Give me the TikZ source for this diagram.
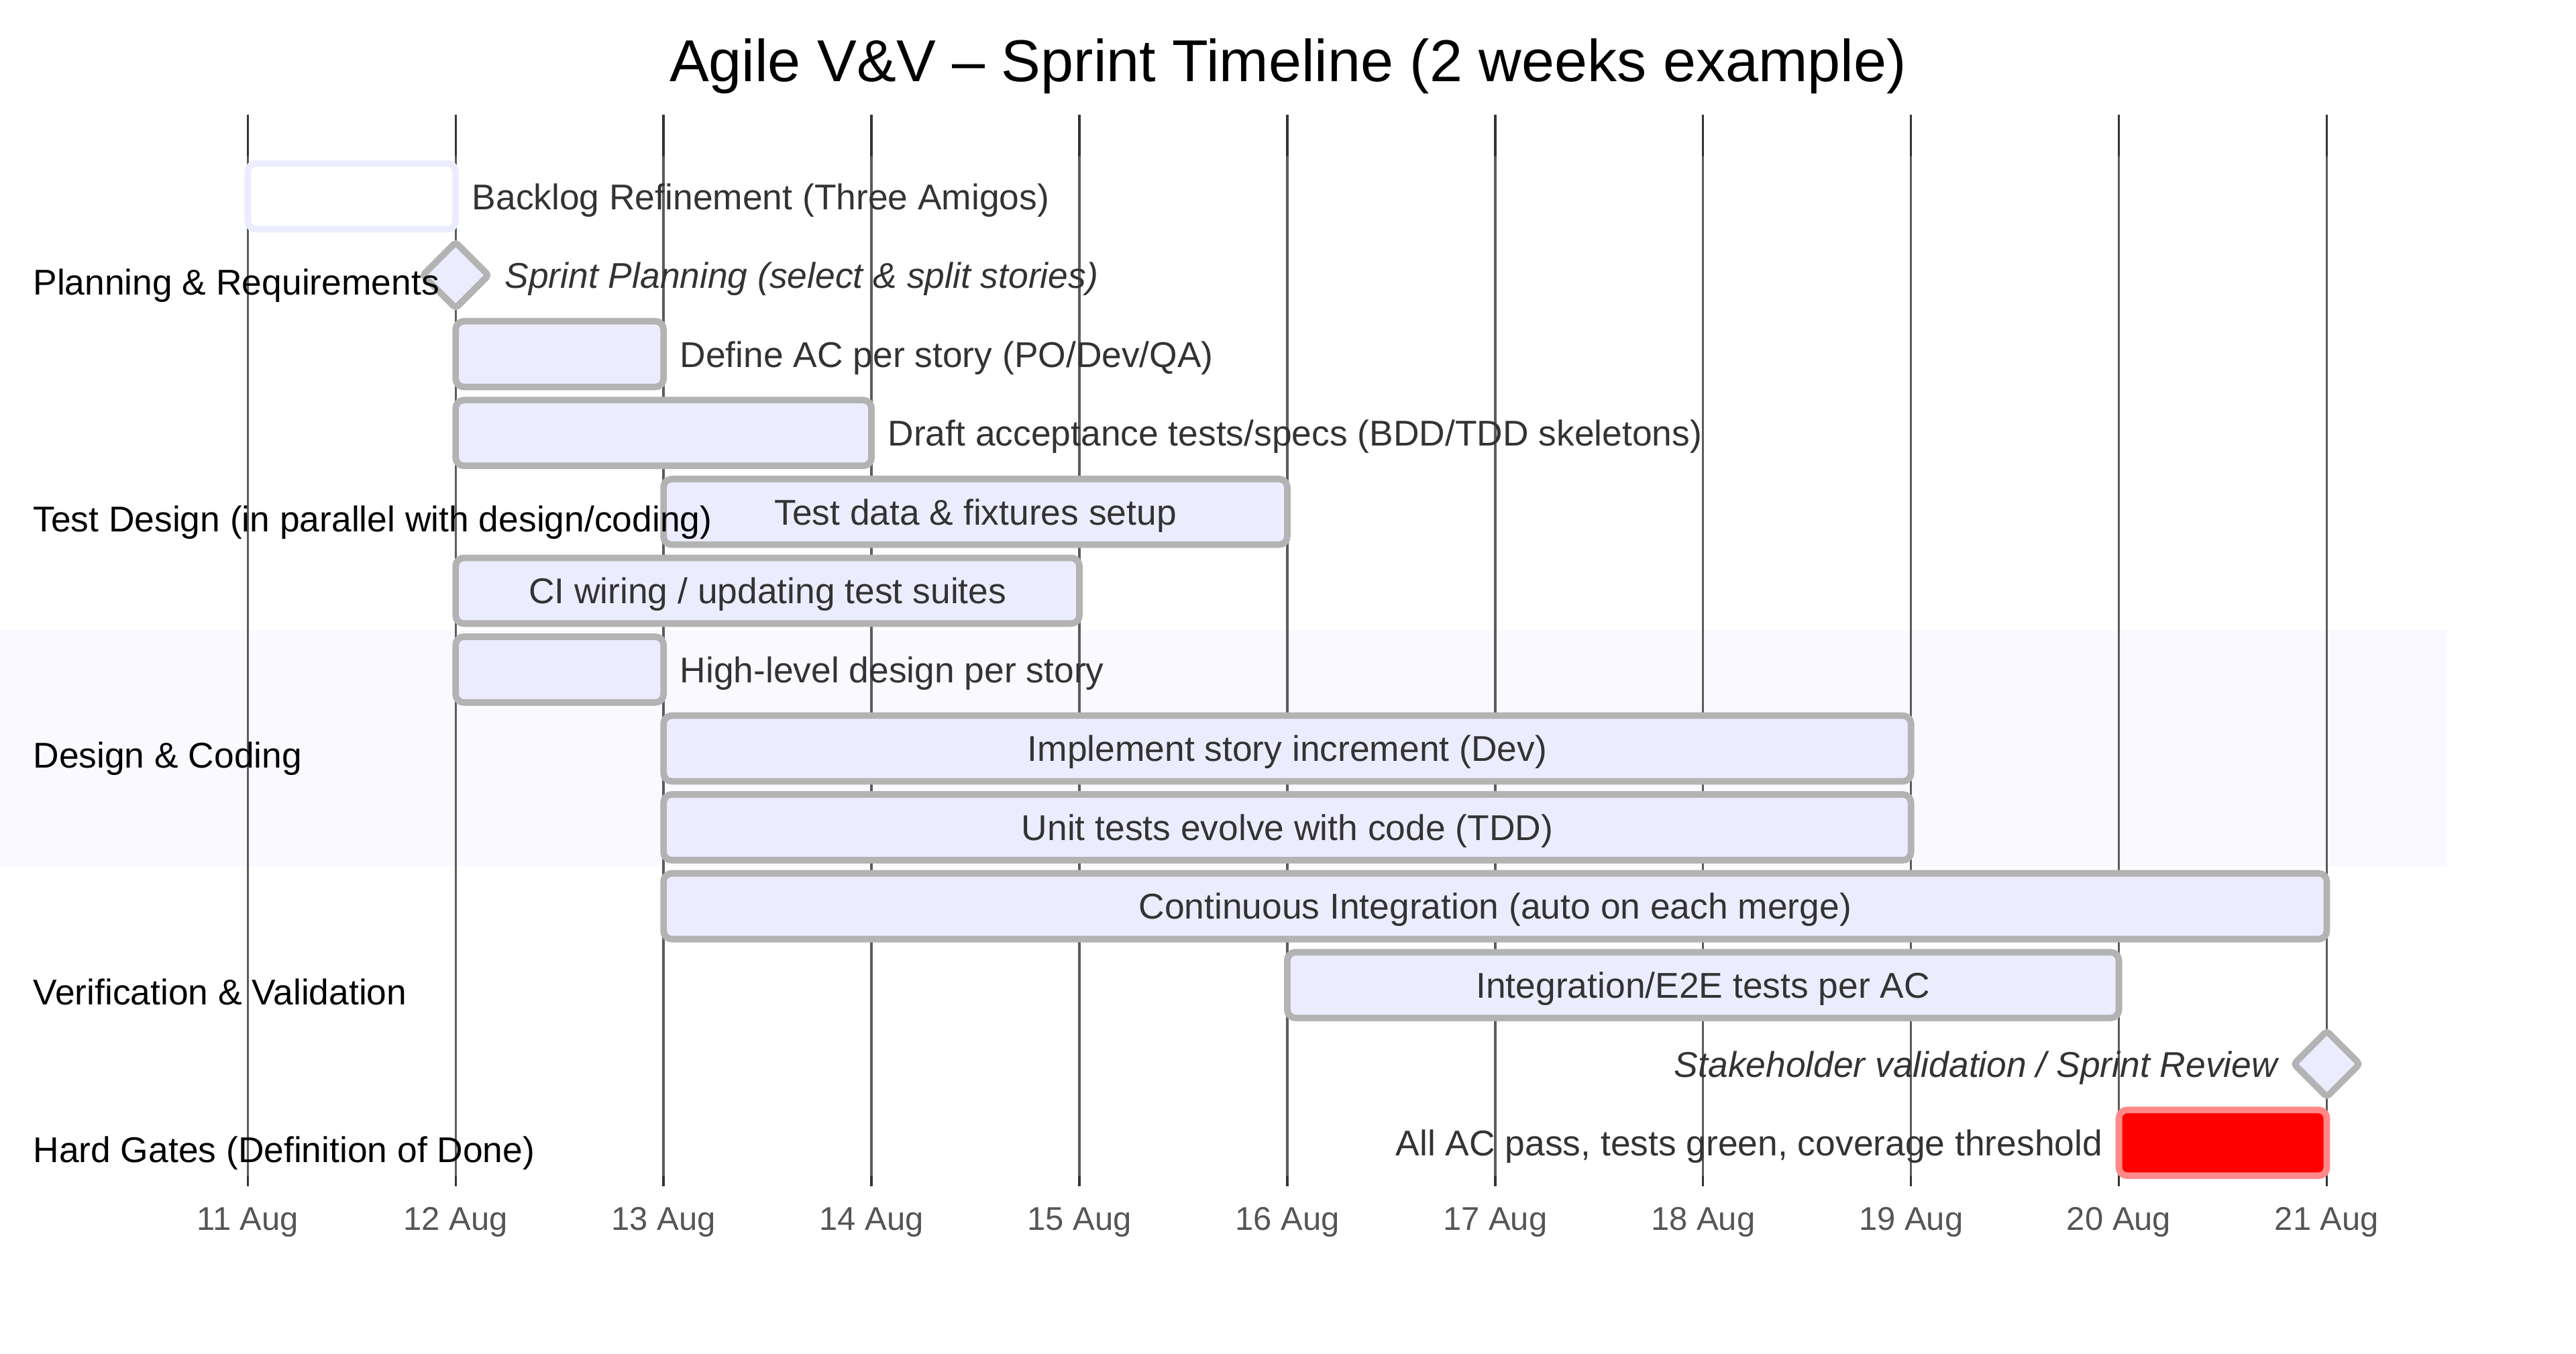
\documentclass[tikz,border=0pt]{standalone}
\usepackage{fontspec}
\setmainfont{Liberation Sans}
\usetikzlibrary{positioning}
\usetikzlibrary{shapes.geometric}

\definecolor{barfill}{RGB}{236,236,255}
\definecolor{barline}{RGB}{179,179,179}
\definecolor{critfill}{RGB}{255,0,0}
\definecolor{critline}{RGB}{255,136,136}
\definecolor{gridmid}{RGB}{92,92,92}
\definecolor{gridend}{RGB}{51,51,51}
\definecolor{bandfill}{RGB}{249,249,255}
\definecolor{labeltext}{RGB}{51,51,51}
\definecolor{ticktext}{RGB}{85,85,85}

\begin{document}
\begin{tikzpicture}[
    x=1pt, y=-1pt,
    node distance=10pt,
    taskbar/.style={
        rectangle,
        draw=barline,
        fill=barfill,
        line width=4pt,
        rounded corners=5pt,
        minimum height=40pt,
        inner sep=0pt,
        outer sep=0pt,
        anchor=west,
        text=labeltext,
        font=\fontsize{21.8}{26}\selectfont,
        text height=15.8pt,
        text depth=0pt
    },
    donebar/.style={taskbar, draw=barfill, fill=white},
    critbar/.style={taskbar, draw=critline, fill=critfill},
    milestone/.style={
        diamond,
        draw=barline,
        fill=barfill,
        line width=4pt,
        rounded corners=2pt,
        minimum width=40pt,
        minimum height=40pt,
        inner sep=0pt,
        outer sep=0pt
    },
    tasklabel/.style={
        inner sep=0pt,
        outer sep=0pt,
        text=labeltext,
        font=\fontsize{21.8}{26}\selectfont,
        text height=15.8pt,
        text depth=0pt
    },
    section/.style={
        anchor=base west,
        inner sep=0pt,
        font=\fontsize{21.8}{26}\selectfont
    },
    ticklabel/.style={
        anchor=base,
        inner sep=0pt,
        text=ticktext,
        font=\fontsize{20}{24}\selectfont
    },
    gridline/.style={gridmid, line width=1.4pt},
    gridtip/.style={gridend, line width=1.4pt}
]

\useasboundingbox (0,0) rectangle (1568,824);

\fill[bandfill] (0,383.5) rectangle (1489.6,527.5);

\foreach \i in {0,...,10} {
    \pgfmathsetmacro\gx{150.8+126.55*\i}
    \pgfmathtruncatemacro\day{11+\i}
    \draw[gridline] (\gx,70) -- (\gx,722);
    \draw[gridtip] (\gx,70) -- (\gx,95);
    \draw[gridtip] (\gx,716) -- (\gx,722);
    \node[ticklabel] (t\day) at (\gx,748.6) {\day\ Aug};
}

\node[anchor=base, inner sep=0pt, font=\fontsize{36}{43}\selectfont] (title) at (784,49.7)
    {Agile V\&V -- Sprint Timeline (2 weeks example)};

\node[donebar, minimum width=126.55pt] (b1) at (150.8,119.5) {};
\node[milestone] (m1) at (277.35,167.5) {};
\node[taskbar, minimum width=126.55pt] (b3) at (277.35,215.5) {};
\node[taskbar, minimum width=253.1pt] (b4) at (277.35,263.5) {};
\node[taskbar, minimum width=379.65pt] (b5) at (403.9,311.5) {Test data \& fixtures setup};
\node[taskbar, minimum width=379.65pt] (b6) at (277.35,359.5) {CI wiring / updating test suites};
\node[taskbar, minimum width=126.55pt] (b7) at (277.35,407.5) {};
\node[taskbar, minimum width=759.3pt] (b8) at (403.9,455.5) {Implement story increment (Dev)};
\node[taskbar, minimum width=759.3pt] (b9) at (403.9,503.5) {Unit tests evolve with code (TDD)};
\node[taskbar, minimum width=1012.4pt] (b10) at (403.9,551.5) {Continuous Integration (auto on each merge)};
\node[taskbar, minimum width=506.2pt] (b11) at (783.55,599.5) {Integration/E2E tests per AC};
\node[milestone] (m2) at (1416.3,647.5) {};
\node[critbar, minimum width=126.55pt] (b13) at (1289.75,695.5) {};

\node[tasklabel, anchor=west, right=of b1] (l1) {Backlog Refinement (Three Amigos)};
\node[tasklabel, anchor=west, right=of m1] (l2) {\itshape Sprint Planning (select \& split stories)};
\node[tasklabel, anchor=west, right=of b3] (l3) {Define AC per story (PO/Dev/QA)};
\node[tasklabel, anchor=west, right=of b4] (l4) {Draft acceptance tests/specs (BDD/TDD skeletons)};
\node[tasklabel, anchor=west, right=of b7] (l7) {High-level design per story};
\node[tasklabel, left=of m2] (l12) {\itshape Stakeholder validation / Sprint Review};
\node[tasklabel, left=of b13] (l13) {All AC pass, tests green, coverage threshold};

\node[section] (s1) at (20,179.5) {Planning \& Requirements};
\node[section] (s2) at (20,323.5) {Test Design (in parallel with design/coding)};
\node[section] (s3) at (20,467.5) {Design \& Coding};
\node[section] (s4) at (20,611.5) {Verification \& Validation};
\node[section] (s5) at (20,707.5) {Hard Gates (Definition of Done)};

\end{tikzpicture}
\end{document}
